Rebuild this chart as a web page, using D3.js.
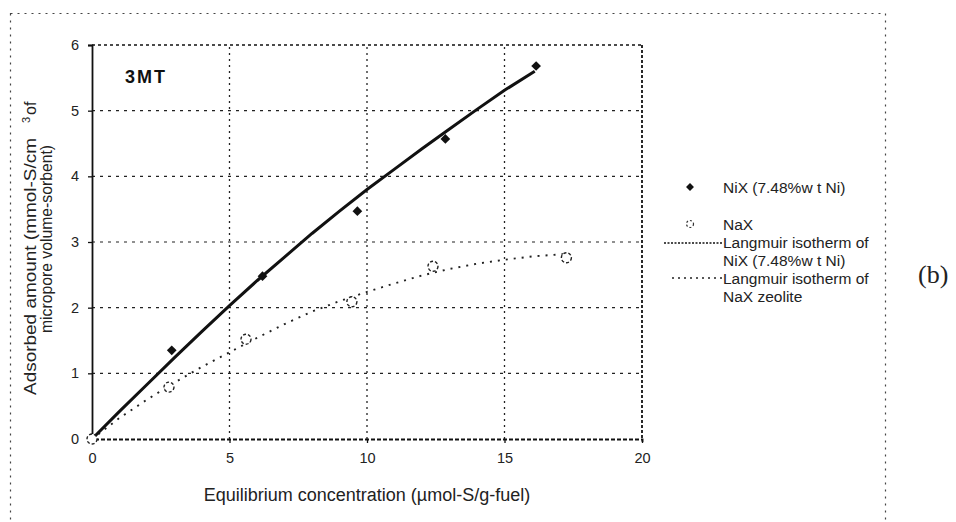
<!DOCTYPE html>
<html>
<head>
<meta charset="utf-8">
<script src="https://cdn.jsdelivr.net/npm/d3@7"></script>
<style>
  html, body { margin: 0; padding: 0; background: #fff; }
  svg { display: block; font-family: "Liberation Sans", Arial, sans-serif; }
</style>
</head>
<body>
<svg id="chart" width="956" height="522"></svg>
<script>
// Measured adsorption of 3MT
const nixConc = [0, 2.9, 6.2, 9.65, 12.85, 16.15];
const nixAds  = [0, 1.35, 2.48, 3.47, 4.57, 5.68];
const naxConc = [0, 2.8, 5.6, 9.45, 12.4, 17.25];
const naxAds  = [0, 0.79, 1.52, 2.09, 2.63, 2.76];

// Langmuir isotherm curves
const nixFitConc = [0, 1, 2, 3, 4, 5, 6, 7, 8, 9, 10, 11, 12, 13, 14, 15, 16.1];
const nixFitAds  = [0, 0.42, 0.83, 1.24, 1.64, 2.03, 2.41, 2.77, 3.13, 3.47, 3.8, 4.11, 4.42, 4.72, 5.02, 5.31, 5.6];
const naxFitConc = [0, 1, 2, 3, 4, 5, 6, 7, 8, 9, 10, 11, 12, 13, 14, 15, 16, 17.3];
const naxFitAds  = [0, 0.32, 0.6, 0.86, 1.1, 1.32, 1.54, 1.75, 1.94, 2.1, 2.24, 2.37, 2.49, 2.59, 2.67, 2.73, 2.78, 2.82];

const xTickValues = [0, 5, 10, 15, 20];
const yTickValues = [0, 1, 2, 3, 4, 5, 6];

const legendLabels = ["NiX (7.48%w t Ni)", "NaX", "Langmuir isotherm of", "NiX (7.48%w t Ni)", "Langmuir isotherm of", "NaX zeolite"];

const svg = d3.select("#chart");

const x = d3.scaleLinear().domain([0, 20]).range([92, 642]);
const y = d3.scaleLinear().domain([0, 6]).range([439, 45]);

// outer frame of the figure
svg.append("rect")
  .attr("x", 10.5).attr("y", 13.5).attr("width", 875).attr("height", 540)
  .attr("fill", "none").attr("stroke", "#444").attr("stroke-width", 1.2)
  .attr("stroke-dasharray", "2,5");

// grid
const grid = svg.append("g");
grid.selectAll("line.gx").data(xTickValues.filter(d => d > 0 && d < 20)).join("line")
  .attr("x1", d => x(d)).attr("x2", d => x(d)).attr("y1", y(0)).attr("y2", y(6))
  .attr("stroke", "#222").attr("stroke-width", 1.3).attr("stroke-dasharray", "2,4");
grid.selectAll("line.gy").data(yTickValues.filter(d => d > 0 && d < 6)).join("line")
  .attr("x1", x(0)).attr("x2", x(20)).attr("y1", d => y(d)).attr("y2", d => y(d))
  .attr("stroke", "#222").attr("stroke-width", 1.2).attr("stroke-dasharray", "3,5");

// plot frame: top and right
svg.append("line").attr("x1", x(0)).attr("x2", x(20)).attr("y1", y(6)).attr("y2", y(6))
  .attr("stroke", "#111").attr("stroke-width", 1.5).attr("stroke-dasharray", "3,3");
svg.append("line").attr("x1", x(20)).attr("x2", x(20)).attr("y1", y(6)).attr("y2", y(0))
  .attr("stroke", "#111").attr("stroke-width", 1.8).attr("stroke-dasharray", "3,2");

// axes
const xAxis = d3.axisBottom(x).tickValues(xTickValues).tickFormat(d3.format("d")).tickSize(4).tickPadding(10);
const yAxis = d3.axisLeft(y).tickValues(yTickValues).tickFormat(d3.format("d")).tickSize(4).tickPadding(9);

const gx = svg.append("g").attr("transform", `translate(0,${y(0)})`).call(xAxis);
const gy = svg.append("g").attr("transform", `translate(${x(0)},0)`).call(yAxis);
[gx, gy].forEach(g => {
  g.selectAll("text").attr("font-size", 14.5).attr("fill", "#222")
    .attr("font-family", "Liberation Sans, Arial, sans-serif");
  g.selectAll(".tick line").attr("stroke", "#111").attr("stroke-width", 1.3);
});
gx.select(".domain").attr("stroke", "#111").attr("stroke-width", 1.8).attr("stroke-dasharray", "4,2");
gy.select(".domain").attr("stroke", "#111").attr("stroke-width", 1.8);

// fitted isotherms
const line = d3.line().x(d => x(d[0])).y(d => y(d[1]));
svg.append("path")
  .datum(naxFitConc.map((c, i) => [c, naxFitAds[i]]))
  .attr("d", line).attr("fill", "none").attr("stroke", "#222")
  .attr("stroke-width", 1.9).attr("stroke-dasharray", "2,6");
svg.append("path")
  .datum(nixFitConc.map((c, i) => [c, nixFitAds[i]]))
  .attr("d", line).attr("fill", "none").attr("stroke", "#111")
  .attr("stroke-width", 3);

// measured points
const diamond = d3.symbol().type(d3.symbolDiamond2).size(60);
svg.selectAll("path.nix").data(nixConc.map((c, i) => [c, nixAds[i]])).join("path")
  .attr("class", "nix")
  .attr("d", diamond)
  .attr("transform", d => `translate(${x(d[0])},${y(d[1])})`)
  .attr("fill", "#111");
svg.selectAll("circle.nax").data(naxConc.map((c, i) => [c, naxAds[i]])).join("circle")
  .attr("class", "nax")
  .attr("cx", d => x(d[0])).attr("cy", d => y(d[1])).attr("r", 5)
  .attr("fill", "#fff").attr("stroke", "#222").attr("stroke-width", 1.4)
  .attr("stroke-dasharray", "3,2");

// panel label inside plot
svg.append("text").attr("x", 125).attr("y", 83)
  .attr("font-size", 18).attr("font-weight", "bold").attr("letter-spacing", 2)
  .attr("fill", "#111").text("3MT");

// axis titles
svg.append("text").attr("x", 367).attr("y", 501).attr("text-anchor", "middle")
  .attr("font-size", 18).attr("fill", "#222")
  .text("Equilibrium concentration (\u00b5mol-S/g-fuel)");

svg.append("text").attr("transform", "translate(36,395) rotate(-90)")
  .attr("font-size", 16).attr("fill", "#222")
  .attr("textLength", 257).attr("lengthAdjust", "spacingAndGlyphs")
  .text("Adsorbed amount (mmol-S/cm");
svg.append("text").attr("transform", "translate(30,123) rotate(-90)")
  .attr("font-size", 11).attr("fill", "#222").text("3");
svg.append("text").attr("transform", "translate(36,115) rotate(-90)")
  .attr("font-size", 16).attr("fill", "#222").text("of");

svg.append("text").attr("transform", "translate(52,239) rotate(-90)")
  .attr("text-anchor", "middle").attr("font-size", 16).attr("fill", "#222")
  .attr("textLength", 188).attr("lengthAdjust", "spacingAndGlyphs")
  .text("micropore volume-sorbent)");

// legend
const lg = svg.append("g").attr("font-size", 15.5).attr("fill", "#222");
lg.append("path").attr("d", d3.symbol().type(d3.symbolDiamond2).size(40))
  .attr("transform", "translate(690,187)").attr("fill", "#111");
lg.append("circle").attr("cx", 690).attr("cy", 224).attr("r", 3.5)
  .attr("fill", "none").attr("stroke", "#333").attr("stroke-width", 1.2).attr("stroke-dasharray", "2,2");
lg.append("line").attr("x1", 664).attr("x2", 722).attr("y1", 243).attr("y2", 243)
  .attr("stroke", "#111").attr("stroke-width", 1.6).attr("stroke-dasharray", "2,1.5");
lg.append("line").attr("x1", 672).attr("x2", 722).attr("y1", 278).attr("y2", 278)
  .attr("stroke", "#222").attr("stroke-width", 1.3).attr("stroke-dasharray", "2,4");
const legendY = [193, 230, 248, 266, 284, 302];
lg.selectAll("text").data(legendLabels).join("text")
  .attr("x", 723).attr("y", (d, i) => legendY[i]).text(d => d);

// figure letter
svg.append("text").attr("x", 918).attr("y", 283)
  .attr("font-family", "Liberation Serif, Times New Roman, serif")
  .attr("font-size", 26).attr("fill", "#222").text("(b)");
</script>
</body>
</html>
